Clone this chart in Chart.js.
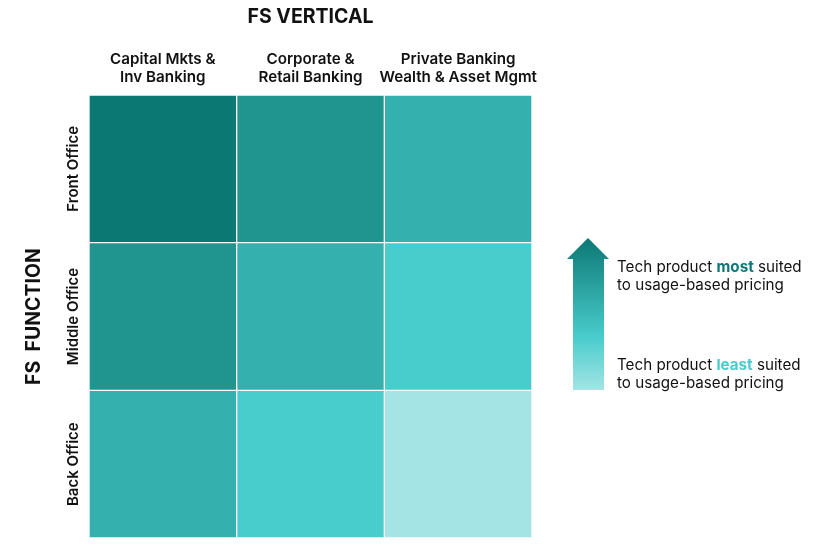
<!DOCTYPE html>
<html lang="en">
<head>
<meta charset="UTF-8">
<title>FS Vertical vs FS Function</title>
<script src="https://cdn.jsdelivr.net/npm/chart.js"></script>
<style>
  html, body { margin: 0; padding: 0; background: #ffffff; }
  #wrap { width: 840px; height: 558px; position: relative; }
</style>
</head>
<body>
<div id="wrap"><canvas id="heat"></canvas></div>
<script>
  // columns (FS vertical), left to right
  const verticals = [
    ['Capital Mkts &', 'Inv Banking'],
    ['Corporate &', 'Retail Banking'],
    ['Private Banking', 'Wealth & Asset Mgmt']
  ];
  // rows (FS function), bottom to top
  const functions = ['Back Office', 'Middle Office', 'Front Office'];
  // suitability level per cell, 1 = least, 5 = most
  const backLevels = [3, 2, 1];
  const middleLevels = [4, 3, 2];
  const frontLevels = [5, 4, 3];
  const palette = ['#a4e4e4', '#48cccc', '#34b0ae', '#20958f', '#0c7874'];

  const FONT = 'Inter, "Liberation Sans", sans-serif';

  const rows = [backLevels, middleLevels, frontLevels];
  const datasets = rows.map((levels, i) => ({
    label: functions[i],
    data: levels.map(() => 1),
    backgroundColor: levels.map(l => palette[l - 1]),
    borderColor: '#ffffff',
    borderWidth: 1,
    borderSkipped: false,
    barPercentage: 1,
    categoryPercentage: 1,
    stack: 'grid'
  }));

  const labelsPlugin = {
    id: 'labels',
    afterDraw(chart) {
      const ctx = chart.ctx;
      const xs = chart.scales.x;
      const ys = chart.scales.y;
      ctx.save();
      ctx.fillStyle = '#111111';
      ctx.textAlign = 'center';
      ctx.textBaseline = 'middle';

      // top title
      ctx.font = '700 19.5px ' + FONT;
      ctx.fillText('FS VERTICAL', (xs.left + xs.right) / 2, 17);

      // column labels
      ctx.font = '600 15.2px ' + FONT;
      verticals.forEach((lines, i) => {
        const cx = xs.getPixelForValue(i);
        lines.forEach((t, j) => ctx.fillText(t, cx, 59 + j * 18.5));
      });

      // row labels
      functions.forEach((t, i) => {
        const cy = ys.getPixelForValue(i + 0.5);
        ctx.save();
        ctx.translate(73, cy);
        ctx.rotate(-Math.PI / 2);
        ctx.font = '600 15px ' + FONT;
        ctx.fillText(t, 0, 0);
        ctx.restore();
      });

      // side title
      ctx.save();
      ctx.translate(34, (ys.top + ys.bottom) / 2);
      ctx.rotate(-Math.PI / 2);
      ctx.font = '700 19.5px ' + FONT;
      ctx.fillText('FS  FUNCTION', 0, 0);
      ctx.restore();

      // legend arrow
      const grad = ctx.createLinearGradient(0, 238, 0, 390);
      grad.addColorStop(0, palette[4]);
      grad.addColorStop(0.65, palette[1]);
      grad.addColorStop(1, palette[0]);
      ctx.fillStyle = grad;
      ctx.beginPath();
      ctx.moveTo(588, 238);
      ctx.lineTo(609, 259);
      ctx.lineTo(604, 259);
      ctx.lineTo(604, 390);
      ctx.lineTo(573, 390);
      ctx.lineTo(573, 259);
      ctx.lineTo(567, 259);
      ctx.closePath();
      ctx.fill();

      // legend text
      ctx.textAlign = 'left';
      const drawLine = (parts, x, y) => {
        parts.forEach(p => {
          ctx.font = (p.bold ? '700 ' : '400 ') + '15.2px ' + FONT;
          ctx.fillStyle = p.color || '#111111';
          ctx.fillText(p.t, x, y);
          x += ctx.measureText(p.t).width;
        });
      };
      drawLine([{ t: 'Tech product ' }, { t: 'most', bold: true, color: palette[4] }, { t: ' suited' }], 617, 267);
      drawLine([{ t: 'to usage-based pricing' }], 617, 285);
      drawLine([{ t: 'Tech product ' }, { t: 'least', bold: true, color: palette[1] }, { t: ' suited' }], 617, 365);
      drawLine([{ t: 'to usage-based pricing' }], 617, 383);
      ctx.restore();
    }
  };

  new Chart(document.getElementById('heat'), {
    type: 'bar',
    data: { labels: verticals.map(v => v.join(' ')), datasets: datasets },
    options: {
      responsive: true,
      maintainAspectRatio: false,
      animation: false,
      layout: { padding: { left: 89, top: 95, right: 308, bottom: 20 } },
      plugins: { legend: { display: false }, tooltip: { enabled: false } },
      scales: {
        x: { stacked: true, display: false },
        y: { stacked: true, display: false, min: 0, max: 3 }
      }
    },
    plugins: [labelsPlugin]
  });
</script>
</body>
</html>
